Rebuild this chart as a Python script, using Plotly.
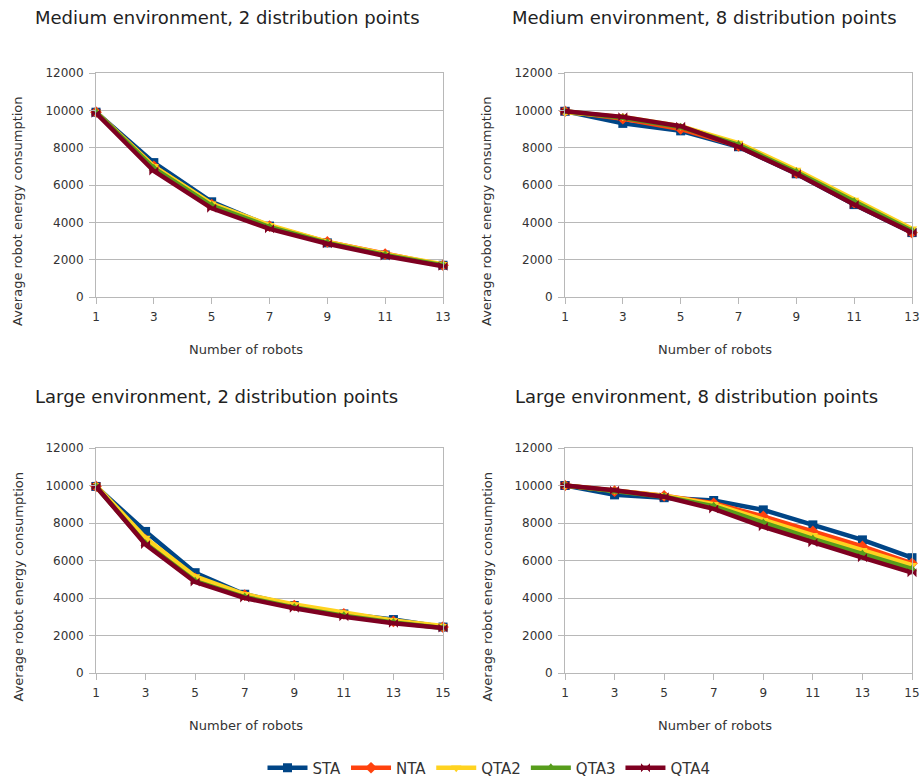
import plotly.graph_objects as go

series_names = ["STA", "NTA", "QTA2", "QTA3", "QTA4"]
colors = ["#004586", "#ff420e", "#ffd320", "#579d1c", "#7e0021"]
symbols = ["square", "diamond", "triangle-down", "triangle-up", "bowtie"]

robots_medium = [1, 3, 5, 7, 9, 11, 13]
robots_large = [1, 3, 5, 7, 9, 11, 13, 15]

# Medium environment, 2 distribution points
med2 = {
    "STA":  [9900, 7200, 5100, 3800, 2900, 2250, 1700],
    "NTA":  [9900, 7000, 4950, 3800, 2950, 2300, 1700],
    "QTA2": [9900, 7000, 5000, 3850, 2950, 2300, 1750],
    "QTA3": [9900, 6900, 4900, 3750, 2900, 2250, 1700],
    "QTA4": [9850, 6750, 4750, 3650, 2850, 2200, 1650],
}
# Medium environment, 8 distribution points
med8 = {
    "STA":  [9950, 9300, 8900, 8050, 6600, 4950, 3450],
    "NTA":  [9950, 9550, 9000, 8100, 6650, 5050, 3450],
    "QTA2": [9900, 9650, 9150, 8250, 6800, 5200, 3650],
    "QTA3": [9950, 9600, 9100, 8150, 6700, 5100, 3550],
    "QTA4": [9950, 9650, 9150, 8050, 6600, 4950, 3450],
}
# Large environment, 2 distribution points
lrg2 = {
    "STA":  [9950, 7550, 5350, 4200, 3600, 3150, 2850, 2450],
    "NTA":  [9950, 7100, 5050, 4150, 3600, 3150, 2750, 2450],
    "QTA2": [10000, 7200, 5150, 4200, 3650, 3200, 2800, 2500],
    "QTA3": [9950, 6900, 4900, 4050, 3500, 3050, 2700, 2400],
    "QTA4": [9950, 6850, 4850, 4000, 3450, 3000, 2650, 2400],
}
# Large environment, 8 distribution points
lrg8 = {
    "STA":  [10000, 9500, 9350, 9200, 8700, 7900, 7100, 6150],
    "NTA":  [10000, 9700, 9450, 9050, 8350, 7550, 6750, 5850],
    "QTA2": [10000, 9750, 9450, 9000, 8150, 7350, 6550, 5750],
    "QTA3": [10000, 9700, 9400, 8900, 8000, 7150, 6350, 5550],
    "QTA4": [10000, 9750, 9400, 8750, 7800, 6950, 6150, 5350],
}

panels = [
    ("Medium environment, 2 distribution points", robots_medium, med2),
    ("Medium environment, 8 distribution points", robots_medium, med8),
    ("Large environment, 2 distribution points", robots_large, lrg2),
    ("Large environment, 8 distribution points", robots_large, lrg8),
]
y_ticks = [0, 2000, 4000, 6000, 8000, 10000, 12000]
x_title = "Number of robots"
y_title = "Average robot energy consumption"

W, H = 923, 783
FONT = "DejaVu Sans, Liberation Sans, sans-serif"
TXT = "#333333"
GRID = "#b8b8b8"
# pixel boxes of plot areas: (x0, x1, ytop, ybottom)
boxes = [(96, 443, 73, 297), (565, 912, 73, 297), (96, 443, 448, 673), (565, 912, 448, 673)]
title_pos = [(33, 17), (510, 17), (33, 396), (513, 396)]


def px(x):
    return x / W


def py(y):
    return 1 - y / H


fig = go.Figure()
layout = dict(
    width=W, height=H, margin=dict(l=0, r=0, t=0, b=0, autoexpand=False),
    paper_bgcolor="white", plot_bgcolor="white",
    font=dict(family=FONT, color=TXT),
    showlegend=True,
    legend=dict(orientation="h", x=px(489), xanchor="center", y=py(768), yanchor="middle",
                font=dict(size=15, color=TXT, family=FONT), tracegroupgap=0, itemwidth=40),
)
annotations = []
for i, (title, xs, data) in enumerate(panels):
    n = i + 1
    xa = "x" if n == 1 else f"x{n}"
    ya = "y" if n == 1 else f"y{n}"
    x0, x1, yt, yb = boxes[i]
    for j, name in enumerate(series_names):
        fig.add_trace(go.Scatter(
            x=xs, y=data[name], name=name, mode="lines+markers",
            line=dict(color=colors[j], width=4.5),
            marker=dict(symbol=symbols[j], size=9, color=colors[j]),
            xaxis=xa, yaxis=ya, showlegend=(i == 0), legendgroup=name,
            cliponaxis=False,
        ))
    xkey = "xaxis" if n == 1 else f"xaxis{n}"
    ykey = "yaxis" if n == 1 else f"yaxis{n}"
    layout[xkey] = dict(
        domain=[px(x0), px(x1)], anchor=ya, range=[xs[0], xs[-1]],
        tickvals=xs, ticktext=[str(v) for v in xs], showgrid=False,
        showline=True, linecolor=GRID, mirror=True, ticks="outside",
        ticklen=6, tickcolor=GRID, tickfont=dict(size=12, color=TXT),
        ticklabelstandoff=3, automargin=False, zeroline=False,
    )
    layout[ykey] = dict(
        domain=[py(yb), py(yt)], anchor=xa, range=[0, 12000],
        tickvals=y_ticks, ticktext=[str(v) for v in y_ticks],
        showgrid=True, gridcolor=GRID, gridwidth=1,
        showline=True, linecolor=GRID, mirror=True, ticks="outside",
        ticklen=6, tickcolor=GRID, tickfont=dict(size=12, color=TXT),
        ticklabelstandoff=3, automargin=False, zeroline=False,
    )
    tx, ty = title_pos[i]
    annotations.append(dict(
        text=title, xref="paper", yref="paper", x=px(tx), y=py(ty),
        xanchor="left", yanchor="middle", showarrow=False,
        font=dict(size=18, color="#222222", family=FONT),
    ))
    annotations.append(dict(
        text=x_title, xref="paper", yref="paper", x=px((x0 + x1) / 2 - 24), y=py(yb + 52),
        xanchor="center", yanchor="middle", showarrow=False,
        font=dict(size=13, color=TXT, family=FONT),
    ))
    annotations.append(dict(
        text=y_title, xref="paper", yref="paper", x=px(x0 - 78), y=py((yt + yb) / 2 + 26),
        xanchor="center", yanchor="middle", showarrow=False, textangle=-90,
        font=dict(size=13, color=TXT, family=FONT),
    ))
layout["annotations"] = annotations
fig.update_layout(**layout)
# remove the default 8px page margin so the 923x783 figure fills the window exactly
fig.write_html(
    "out.html",
    config={"displayModeBar": False},
    post_script="document.body.style.margin='0';document.body.style.overflow='hidden';",
)
